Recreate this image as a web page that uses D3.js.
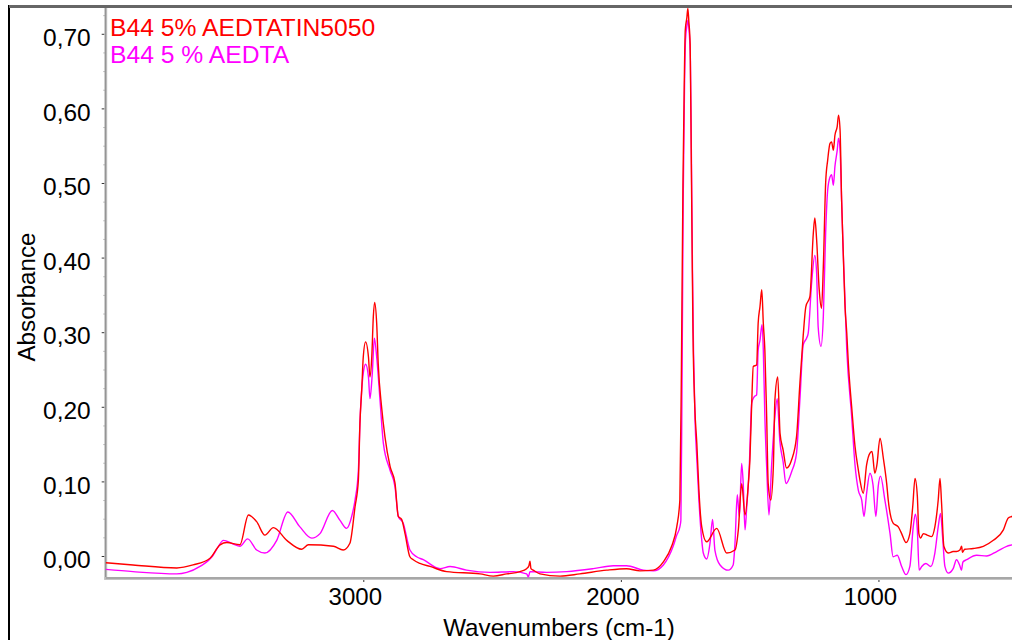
<!DOCTYPE html>
<html>
<head>
<meta charset="utf-8">
<script src="https://cdn.jsdelivr.net/npm/d3@7"></script>
<style>
  body { margin: 0; background: #fff; }
  svg { display: block; }
  text { font-family: "Liberation Sans", Arial, sans-serif; }
</style>
</head>
<body>
<svg id="chart" width="1012" height="640"></svg>
<script>
// FTIR absorbance spectra: [wavenumber cm-1, absorbance]
const seriesNames = ["B44 5% AEDTATIN5050", "B44 5 % AEDTA"];
const seriesColors = ["#ff0000", "#ff00ff"];

const aedtaTin5050 = [
  [4000,-0.009],[3894,-0.012],[3724,-0.016],[3661,-0.012],[3595,-0.003],[3556,0.015],
  [3530,0.018],[3479,0.015],[3446,0.055],[3414,0.046],[3382,0.028],[3349,0.038],
  [3297,0.021],[3239,0.009],[3213,0.015],[3116,0.013],[3078,0.008],[3052,0.017],
  [3032,0.066],[3019,0.102],[3013,0.178],[3006,0.223],[3000,0.267],[2991,0.287],
  [2980,0.267],[2974,0.240],[2967,0.267],[2961,0.321],[2956,0.340],[2948,0.312],
  [2942,0.258],[2929,0.200],[2916,0.160],[2896,0.120],[2877,0.098],[2864,0.053],
  [2851,0.049],[2838,0.030],[2819,-0.001],[2806,-0.005],[2780,-0.010],[2741,-0.014],
  [2676,-0.021],[2547,-0.024],[2495,-0.027],[2443,-0.024],[2392,-0.021],[2366,-0.017],
  [2357,-0.013],[2353,-0.007],[2349,-0.017],[2340,-0.019],[2314,-0.024],[2236,-0.027],
  [2159,-0.024],[2055,-0.019],[1978,-0.017],[1926,-0.020],[1874,-0.019],[1835,-0.008],
  [1803,0.013],[1783,0.039],[1771,0.075],[1765,0.249],[1759,0.497],[1754,0.631],
  [1750,0.705],[1744,0.721],[1740,0.734],[1736,0.716],[1731,0.686],[1727,0.547],
  [1723,0.398],[1720,0.299],[1713,0.200],[1705,0.150],[1697,0.088],[1686,0.039],
  [1667,0.019],[1628,0.037],[1589,0.004],[1557,0.008],[1544,0.035],[1531,0.097],
  [1518,0.055],[1505,0.097],[1499,0.129],[1492,0.205],[1486,0.254],[1473,0.256],
  [1467,0.312],[1460,0.334],[1453,0.357],[1447,0.312],[1441,0.276],[1434,0.187],
  [1428,0.097],[1418,0.075],[1408,0.120],[1402,0.209],[1391,0.240],[1382,0.164],
  [1370,0.142],[1357,0.118],[1337,0.129],[1318,0.160],[1305,0.231],[1292,0.296],
  [1282,0.334],[1266,0.348],[1253,0.432],[1247,0.453],[1240,0.424],[1230,0.357],
  [1221,0.332],[1214,0.388],[1205,0.500],[1197,0.531],[1188,0.553],[1182,0.555],
  [1175,0.544],[1169,0.564],[1160,0.576],[1155,0.591],[1149,0.571],[1143,0.477],
  [1137,0.410],[1130,0.336],[1123,0.299],[1117,0.259],[1104,0.200],[1091,0.147],
  [1078,0.115],[1072,0.102],[1059,0.084],[1046,0.122],[1033,0.138],[1025,0.140],
  [1014,0.111],[1006,0.122],[994,0.158],[981,0.131],[968,0.097],[962,0.075],
  [943,0.044],[923,0.039],[910,0.030],[893,0.018],[878,0.030],[867,0.066],
  [858,0.104],[849,0.080],[843,0.030],[836,0.024],[826,0.030],[811,0.028],
  [794,0.026],[781,0.039],[768,0.075],[761,0.104],[755,0.071],[746,0.013],
  [729,0.004],[710,0.006],[697,0.006],[684,0.008],[677,0.013],[674,0.005],
  [665,0.009],[632,0.010],[593,0.013],[554,0.021],[515,0.035],[496,0.051],
  [482,0.053],[450,0.060],[400,0.068]
];

const aedta = [
  [4000,-0.018],[3894,-0.021],[3724,-0.024],[3685,-0.022],[3634,-0.014],[3583,0.001],
  [3564,0.012],[3543,0.021],[3505,0.016],[3479,0.013],[3449,0.023],[3414,0.008],
  [3382,0.004],[3336,0.021],[3293,0.059],[3246,0.039],[3200,0.024],[3168,0.030],
  [3120,0.061],[3091,0.048],[3065,0.037],[3045,0.053],[3032,0.075],[3019,0.115],
  [3013,0.178],[3000,0.245],[2991,0.257],[2980,0.240],[2974,0.211],[2965,0.245],
  [2957,0.292],[2948,0.267],[2935,0.209],[2922,0.151],[2896,0.115],[2877,0.093],
  [2864,0.053],[2845,0.044],[2819,0.008],[2793,-0.001],[2767,-0.005],[2702,-0.017],
  [2663,-0.014],[2599,-0.019],[2508,-0.022],[2418,-0.021],[2366,-0.024],[2359,-0.028],
  [2353,-0.021],[2288,-0.022],[2210,-0.021],[2107,-0.017],[2029,-0.013],[1978,-0.013],
  [1913,-0.019],[1874,-0.020],[1835,-0.012],[1797,0.013],[1783,0.028],[1771,0.039],
  [1767,0.048],[1763,0.209],[1758,0.477],[1753,0.625],[1749,0.692],[1743,0.712],
  [1740,0.718],[1736,0.708],[1730,0.665],[1726,0.531],[1722,0.383],[1718,0.276],
  [1712,0.182],[1705,0.129],[1697,0.075],[1686,0.021],[1680,0.004],[1667,-0.004],
  [1654,0.017],[1644,0.049],[1635,0.008],[1615,-0.012],[1583,-0.019],[1564,-0.012],
  [1557,0.017],[1548,0.082],[1540,0.053],[1531,0.124],[1525,0.097],[1518,0.035],
  [1512,0.062],[1501,0.124],[1492,0.205],[1483,0.213],[1473,0.216],[1467,0.276],
  [1460,0.289],[1452,0.310],[1447,0.276],[1441,0.187],[1434,0.120],[1425,0.055],
  [1415,0.120],[1402,0.187],[1393,0.211],[1383,0.155],[1370,0.126],[1359,0.097],
  [1337,0.113],[1318,0.138],[1305,0.209],[1292,0.283],[1279,0.292],[1273,0.298],
  [1259,0.368],[1247,0.403],[1240,0.379],[1234,0.307],[1223,0.281],[1214,0.321],
  [1205,0.433],[1197,0.491],[1188,0.508],[1182,0.511],[1175,0.497],[1169,0.522],
  [1160,0.544],[1155,0.560],[1149,0.544],[1143,0.477],[1137,0.410],[1123,0.276],
  [1104,0.187],[1091,0.122],[1078,0.088],[1065,0.075],[1056,0.053],[1046,0.084],
  [1033,0.111],[1021,0.095],[1010,0.053],[1001,0.093],[992,0.107],[975,0.075],
  [955,0.030],[943,-0.001],[927,0.001],[910,-0.014],[893,-0.025],[878,-0.014],
  [865,0.039],[857,0.056],[849,0.035],[842,-0.019],[832,-0.014],[816,-0.010],
  [797,-0.014],[781,0.004],[768,0.039],[759,0.057],[751,0.026],[742,-0.014],
  [729,-0.023],[710,-0.017],[697,-0.005],[684,-0.013],[678,-0.019],[672,-0.008],
  [658,-0.005],[619,0.001],[580,0.000],[541,0.006],[502,0.013],[482,0.015],
  [450,0.018],[400,0.020]
];

const yTickValues = [0, 0.1, 0.2, 0.3, 0.4, 0.5, 0.6, 0.7];
const yTickLabels = ["0,00", "0,10", "0,20", "0,30", "0,40", "0,50", "0,60", "0,70"];
const xTickValues = [3000, 2000, 1000];
const xTickLabels = ["3000", "2000", "1000"];
const xTitle = "Wavenumbers (cm-1)";
const yTitle = "Absorbance";

const svg = d3.select("#chart");
const W = 1012, H = 640;
const plot = { left: 105.7, right: 1033, top: 7, bottom: 578 };

svg.append("rect").attr("width", W).attr("height", H).attr("fill", "#fff");

const x = d3.scaleLinear().domain([4000, 400]).range([plot.left, plot.right]);
const y = d3.scaleLinear().domain([-0.0295, 0.7359]).range([plot.bottom, plot.top]);

// outer frame
svg.append("rect")
  .attr("x", 9).attr("y", 6).attr("width", 1040).attr("height", 660)
  .attr("fill", "none").attr("stroke", "#000").attr("stroke-width", 2);

svg.append("clipPath").attr("id", "plotClip")
  .append("rect")
  .attr("x", plot.left).attr("y", plot.top)
  .attr("width", plot.right - plot.left).attr("height", plot.bottom - plot.top);

// minor ticks
const yMinor = d3.range(0, 0.7251, 0.025).filter(v => Math.abs(v * 10 - Math.round(v * 10)) > 1e-6);
const xMinor = d3.range(3800, 399, -200).filter(v => v % 1000 !== 0);

const yMinorAxis = svg.append("g").attr("transform", `translate(${plot.left},0)`)
  .call(d3.axisLeft(y).tickValues(yMinor).tickSize(2).tickFormat(""));
const xMinorAxis = svg.append("g").attr("transform", `translate(0,${plot.bottom})`)
  .call(d3.axisBottom(x).tickValues(xMinor).tickSize(2).tickFormat(""));
[yMinorAxis, xMinorAxis].forEach(g => {
  g.select(".domain").remove();
  g.selectAll(".tick line").attr("stroke", "#555");
});

// major axes
const yAxis = svg.append("g").attr("transform", `translate(${plot.left},0)`)
  .call(d3.axisLeft(y).tickValues(yTickValues).tickSize(4).tickPadding(11)
    .tickFormat((d, i) => yTickLabels[i]));
yAxis.select(".domain").remove();
yAxis.selectAll(".tick line").attr("stroke", "#333");
yAxis.selectAll(".tick text")
  .attr("font-size", 24.5).attr("fill", "#000").attr("dy", "0.48em")
  .attr("font-family", "'Liberation Sans', Arial, sans-serif");

const xAxis = svg.append("g").attr("transform", `translate(0,${plot.bottom})`)
  .call(d3.axisBottom(x).tickValues(xTickValues).tickSize(4).tickPadding(6)
    .tickFormat((d, i) => xTickLabels[i]));
xAxis.select(".domain").remove();
xAxis.selectAll(".tick line").attr("stroke", "#333");
xAxis.selectAll(".tick text")
  .attr("font-size", 24).attr("fill", "#000").attr("dx", -8.5)
  .attr("font-family", "'Liberation Sans', Arial, sans-serif");

// axis lines
svg.append("line").attr("x1", plot.left).attr("x2", plot.left)
  .attr("y1", plot.top).attr("y2", plot.bottom + 1.5)
  .attr("stroke", "#c4c4c4").attr("stroke-width", 3);
svg.append("line").attr("x1", plot.left).attr("x2", plot.left)
  .attr("y1", plot.top).attr("y2", plot.bottom)
  .attr("stroke", "#8a8a8a").attr("stroke-width", 1);
svg.append("line").attr("x1", plot.left - 1.5).attr("x2", W)
  .attr("y1", plot.bottom + 0.5).attr("y2", plot.bottom + 0.5)
  .attr("stroke", "#c4c4c4").attr("stroke-width", 3);
svg.append("line").attr("x1", plot.left).attr("x2", W)
  .attr("y1", plot.bottom).attr("y2", plot.bottom)
  .attr("stroke", "#8a8a8a").attr("stroke-width", 1);
svg.append("line").attr("x1", 9).attr("x2", W)
  .attr("y1", 6.5).attr("y2", 6.5)
  .attr("stroke", "#666").attr("stroke-width", 3);

// spectra
const line = d3.line().x(d => x(d[0])).y(d => y(d[1])).curve(d3.curveMonotoneX);
const spectra = svg.append("g").attr("clip-path", "url(#plotClip)");
[[aedta, seriesColors[1]], [aedtaTin5050, seriesColors[0]]].forEach(([data, color]) => {
  spectra.append("path").datum(data)
    .attr("d", line)
    .attr("fill", "none")
    .attr("stroke", color)
    .attr("stroke-width", 1.4)
    .attr("stroke-linejoin", "round");
});

// legend
seriesNames.forEach((name, i) => {
  svg.append("text")
    .attr("x", 110).attr("y", 35.5 + i * 27.7)
    .attr("font-size", 24.7).attr("fill", seriesColors[i])
    .text(name);
});

// axis titles
svg.append("text")
  .attr("x", 559).attr("y", 636)
  .attr("text-anchor", "middle").attr("font-size", 24.2).attr("fill", "#000")
  .text(xTitle);
svg.append("text")
  .attr("transform", "translate(35,297) rotate(-90)")
  .attr("text-anchor", "middle").attr("font-size", 24.2).attr("fill", "#000")
  .text(yTitle);
</script>
</body>
</html>
